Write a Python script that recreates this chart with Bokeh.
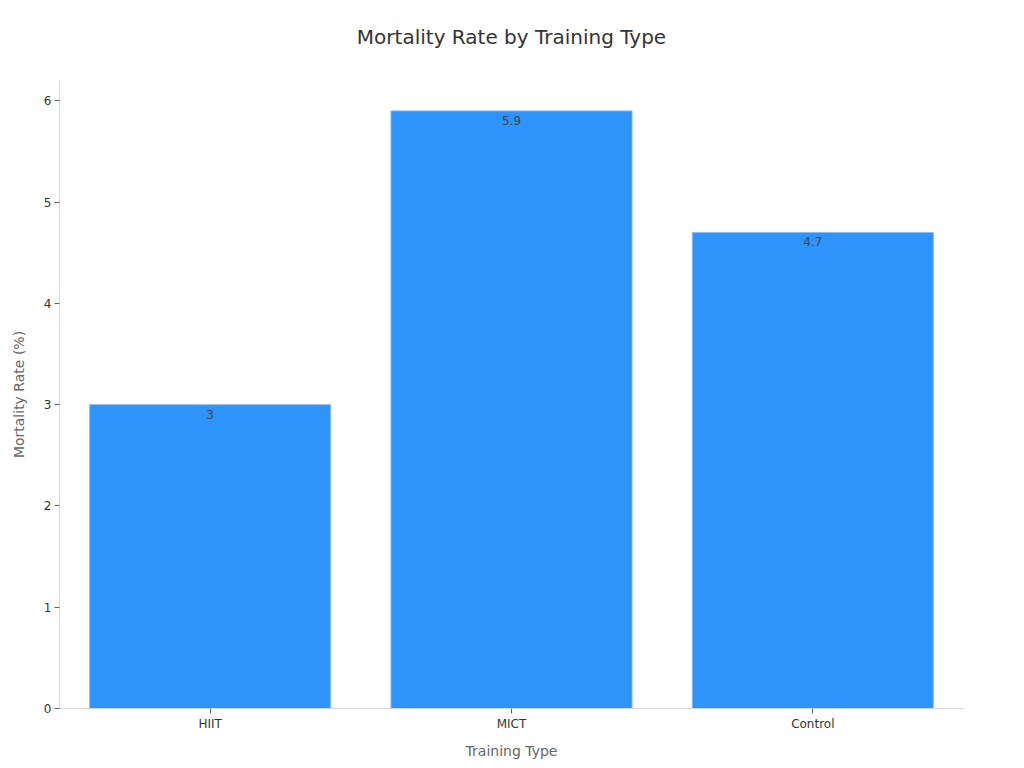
from bokeh.plotting import figure
from bokeh.models import Range1d, ColumnDataSource, LabelSet, FixedTicker
from bokeh.core.properties import value
from bokeh.embed import file_html
from bokeh.resources import INLINE

title_text = "Mortality Rate by Training Type"
categories = ["HIIT", "MICT", "Control"]
mortality = [3.0, 5.9, 4.7]
labels = ["3", "5.9", "4.7"]
y_ticks = [0, 1, 2, 3, 4, 5, 6]

src = ColumnDataSource(dict(cat=categories, val=mortality, lab=labels))

# a blank second title line lifts the visible title towards the top of the page
p = figure(x_range=categories, y_range=Range1d(0, 6.2), width=1024, height=768,
           output_backend="svg", toolbar_location=None,
           title=title_text + "\n ")
p.min_border_left = 59
p.min_border_right = 61
p.min_border_top = 80
p.min_border_bottom = 60
p.outline_line_color = None
p.background_fill_color = "white"

p.title.align = "center"
p.title.text_font = "DejaVu Sans"
p.title.text_font_size = "20px"
p.title.text_font_style = "normal"
p.title.text_color = "#333333"
p.title.offset = 0
p.title.standoff = 16

p.vbar(x="cat", top="val", width=0.8, source=src, fill_color="#2E93FA",
       line_color="#86bdf5", line_width=1)

lbl = LabelSet(x="cat", y="val", text="lab", source=src, text_align="center",
               text_baseline="top", y_offset=-5, text_font_size=value("12px"),
               text_color="#444444", text_font=value("DejaVu Sans"))
p.add_layout(lbl)

p.xgrid.grid_line_color = None
p.ygrid.grid_line_color = None

p.yaxis.ticker = FixedTicker(ticks=y_ticks)
p.yaxis.minor_tick_line_color = None
p.yaxis.major_tick_in = 0
p.yaxis.major_tick_out = 5
p.yaxis.major_tick_line_color = "#666666"
p.yaxis.axis_line_color = "#d6d6d6"
p.yaxis.major_label_text_font = "DejaVu Sans"
p.yaxis.major_label_text_font_size = "12px"
p.yaxis.major_label_text_color = "#333333"
p.yaxis.major_label_standoff = 3
p.yaxis.axis_label = "Mortality Rate (%)"
p.yaxis.axis_label_text_font = "DejaVu Sans"
p.yaxis.axis_label_text_font_size = "14px"
p.yaxis.axis_label_text_font_style = "normal"
p.yaxis.axis_label_text_color = "#666666"
p.yaxis.axis_label_standoff = 14

p.xaxis.major_tick_in = 0
p.xaxis.major_tick_out = 5
p.xaxis.major_tick_line_color = "#666666"
p.xaxis.axis_line_color = "#d6d6d6"
p.xaxis.major_label_text_font = "DejaVu Sans"
p.xaxis.major_label_text_font_size = "12px"
p.xaxis.major_label_text_color = "#333333"
p.xaxis.major_label_standoff = 3
p.xaxis.axis_label = "Training Type"
p.xaxis.axis_label_text_font = "DejaVu Sans"
p.xaxis.axis_label_text_font_size = "14px"
p.xaxis.axis_label_text_font_style = "normal"
p.xaxis.axis_label_text_color = "#666666"
p.xaxis.axis_label_standoff = 9

p.x_range.range_padding = 0.0

open("out.html", "w").write(file_html(p, INLINE))
